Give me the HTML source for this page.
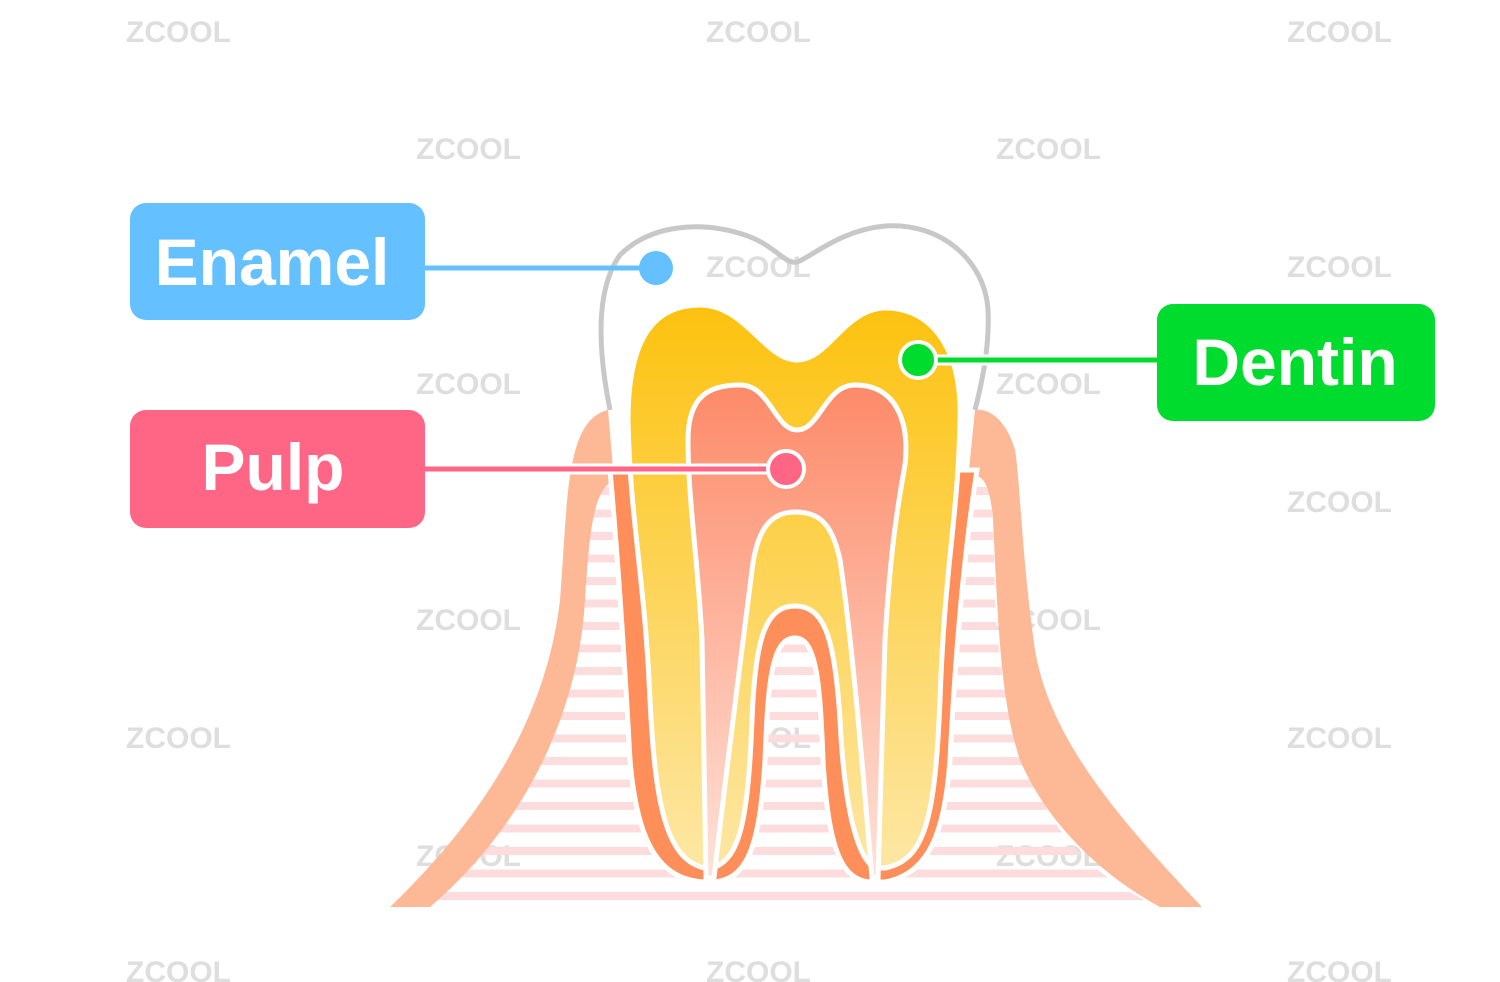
<!DOCTYPE html>
<html><head><meta charset="utf-8"><style>
html,body{margin:0;padding:0;background:#fff;}
svg{display:block;}
</style></head><body>
<svg width="1500" height="982" viewBox="0 0 1500 982" xmlns="http://www.w3.org/2000/svg">
<defs>
<linearGradient id="dg" x1="0" y1="0" x2="0" y2="1">
<stop offset="0" stop-color="#fdc20f"/><stop offset="1" stop-color="#fde7a4"/>
</linearGradient>
<linearGradient id="pg" x1="0" y1="0" x2="0" y2="1">
<stop offset="0" stop-color="#fd8a68"/><stop offset="1" stop-color="#fee2d8"/>
</linearGradient>
<pattern id="st" width="10" height="22.5" patternUnits="userSpaceOnUse" y="487">
<rect width="10" height="8" fill="#fcdcdc"/>
</pattern>
<clipPath id="sc"><path d="M430,907 C520,830 578,720 585,600 C588,520 590,490 610,480 L980,470 C992,480 994,520 995,600 C1000,700 1020,770 1060,830 C1090,870 1130,895 1160,907 Z"/></clipPath>
</defs>
<g font-family="Liberation Sans, sans-serif" font-weight="bold" font-size="30" fill="#dedede">
<text x="126" y="42">ZCOOL</text><text x="706" y="42">ZCOOL</text><text x="1287" y="42">ZCOOL</text>
<text x="416" y="159">ZCOOL</text><text x="996" y="159">ZCOOL</text>
<text x="706" y="277">ZCOOL</text><text x="1287" y="277">ZCOOL</text>
<text x="416" y="394">ZCOOL</text><text x="996" y="394">ZCOOL</text>
<text x="1287" y="512">ZCOOL</text>
<text x="416" y="630">ZCOOL</text><text x="996" y="630">ZCOOL</text>
<text x="126" y="748">ZCOOL</text><text x="706" y="748">ZCOOL</text><text x="1287" y="748">ZCOOL</text>
<text x="416" y="866">ZCOOL</text><text x="996" y="866">ZCOOL</text>
<text x="126" y="982">ZCOOL</text><text x="706" y="982">ZCOOL</text><text x="1287" y="982">ZCOOL</text>
</g>
<rect x="380" y="470" width="830" height="440" fill="url(#st)" clip-path="url(#sc)"/>
<path d="M390,907 C470,830 545,730 560,600 C568,500 565,420 608,410 L614,480 C595,490 590,520 585,600 C578,720 520,830 430,907 Z" fill="#fdb896"/>
<path d="M1202,907 C1120,820 1050,740 1035,650 C1022,560 1020,480 1015,450 C1005,415 985,408 975,410 L968,480 C980,470 990,480 993,520 C998,620 1000,700 1020,760 C1050,830 1110,880 1160,907 Z" fill="#fdb896"/>
<path d="M610,410 C598,350 595,290 620,255 C650,225 700,220 745,235 C775,245 785,265 797,262 C810,258 840,230 885,226 C940,222 985,260 988,310 C990,350 980,390 975,410" fill="none" stroke="#c8c8c8" stroke-width="5"/>
<path d="M610,470 C618,560 624,650 630,760 C637,845 660,880 705,882 L715,882 C750,878 760,840 765,760 C768,680 772,638 795,638 C816,638 820,680 823,760 C828,850 842,880 870,882 L885,882 C930,874 945,830 950,760 C955,660 963,560 977,470 Z" fill="#fe8f5a" stroke="#fff" stroke-width="5"/>
<path d="M628,420 C628,330 660,305 700,305 C745,305 765,360 797,360 C830,360 845,305 890,308 C940,312 962,360 960,420 C958,520 945,560 940,700 C935,820 925,860 885,868 L875,868 C860,860 845,820 840,720 C835,640 825,606 795,606 C765,606 755,640 752,720 C748,820 740,860 712,868 L705,868 C665,860 655,800 650,700 C645,580 630,520 628,420 Z" fill="url(#dg)" stroke="#fff" stroke-width="5"/>
<path d="M688,440 C688,395 710,385 740,385 C770,385 775,430 797,430 C820,430 825,385 855,385 C895,385 910,420 905,465 C895,520 890,560 885,640 L878,878 L872,878 C862,760 852,640 840,560 C832,522 818,512 795,512 C770,512 757,530 752,570 C742,650 725,780 714,878 L706,878 L702,640 C698,560 688,500 688,440 Z" fill="url(#pg)" stroke="#fff" stroke-width="5"/>
<rect x="130" y="203" width="295" height="117" rx="16" fill="#64c0ff"/>
<line x1="425" y1="268" x2="656" y2="268" stroke="#64c0ff" stroke-width="5"/>
<circle cx="656" cy="268" r="17" fill="#64c0ff"/>
<text x="272" y="285" text-anchor="middle" font-family="Liberation Sans, sans-serif" font-weight="bold" font-size="66" fill="#fff">Enamel</text>
<rect x="130" y="410" width="295" height="118" rx="16" fill="#ff6584"/>
<line x1="425" y1="469" x2="786" y2="469" stroke="#fff" stroke-width="11"/>
<line x1="425" y1="469" x2="786" y2="469" stroke="#ff6584" stroke-width="5"/>
<circle cx="786" cy="469" r="18" fill="#ff6584" stroke="#fff" stroke-width="4"/>
<text x="273" y="490" text-anchor="middle" font-family="Liberation Sans, sans-serif" font-weight="bold" font-size="66" fill="#fff">Pulp</text>
<rect x="1157" y="304" width="278" height="117" rx="16" fill="#00dc2d"/>
<line x1="918" y1="360" x2="1157" y2="360" stroke="#fff" stroke-width="11"/>
<line x1="918" y1="360" x2="1157" y2="360" stroke="#00dc2d" stroke-width="5"/>
<circle cx="918" cy="360" r="18" fill="#00dc2d" stroke="#fff" stroke-width="4"/>
<text x="1295" y="385" text-anchor="middle" font-family="Liberation Sans, sans-serif" font-weight="bold" font-size="66" fill="#fff">Dentin</text>
</svg>
</body></html>
